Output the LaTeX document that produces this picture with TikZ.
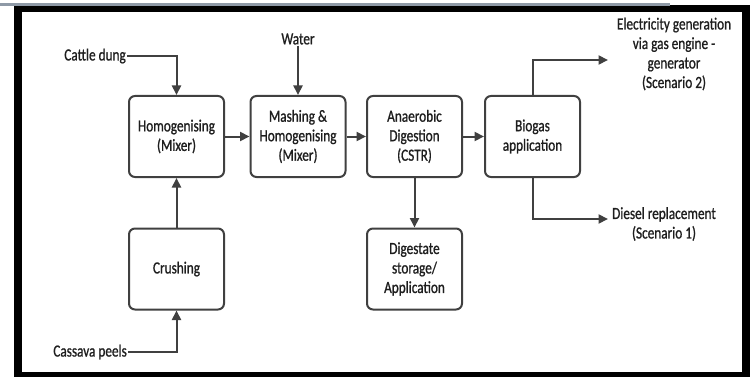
\documentclass[tikz,border=0pt]{standalone}
\usepackage{fontspec}
\setmainfont[FakeStretch=0.78,FakeBold=0.9]{Carlito}
\usetikzlibrary{arrows.meta}
\definecolor{ink}{HTML}{404040}
\definecolor{txt}{HTML}{1E1E1E}
\definecolor{rule}{HTML}{8E99A6}
\begin{document}
\begin{tikzpicture}[x=1pt,y=-1pt,
  every node/.style={font=\fontsize{17}{19.5}\selectfont, text=txt},
  procbox/.style={draw=ink, line width=2pt, rounded corners=6pt, fill=white,
    minimum width=95pt, minimum height=81pt, align=center, inner sep=2pt},
  label/.style={inner sep=1pt, align=center},
  flow/.style={draw=ink, line width=2pt, -{Triangle[length=9.5pt,width=9pt]}},
  feed/.style={draw=ink, line width=2pt}]
  \useasboundingbox (0,0) rectangle (751,377);
  % outer frame
  \fill[black] (14,5) rectangle (750,377);
  \fill[white] (22,12) rectangle (742,372);
  \draw[rule, line width=2.2pt] (0,4.5) -- (670,4.5);

  % process boxes
  \node[procbox] (homog) at (176.5,136.5) {Homogenising\\(Mixer)};
  \node[procbox] (mash)  at (298,136.5)   {Mashing \&\\Homogenising\\(Mixer)};
  \node[procbox] (ad)    at (414.5,136.5) {Anaerobic\\Digestion\\(CSTR)};
  \node[procbox] (bio)   at (532.5,136.5) {Biogas\\application};
  \node[procbox] (crush) at (176.5,269)   {Crushing};
  \node[procbox] (dig)   at (414.5,269)   {Digestate\\storage/\\Application};

  % inputs and outputs
  \node[label, anchor=east] (cattle)  at (127,56)  {Cattle dung};
  \node[label] (water) at (298,39) {Water};
  \node[label, anchor=east] (cassava) at (128,352) {Cassava peels};
  \node[label] (elec) at (674,54) {Electricity generation\\via gas engine -\\generator\\(Scenario 2)};
  \node[label] (diesel) at (664,224) {Diesel replacement\\(Scenario 1)};
  \coordinate (etip) at (608,60);
  \coordinate (dtip) at (608,219);

  % connectors
  \draw[flow] (cattle.east) -| (homog.north);
  \draw[flow] (water.south) -- (mash.north);
  \draw[flow] (homog) -- (mash);
  \draw[flow] (mash) -- (ad);
  \draw[flow] (ad) -- (bio);
  \draw[flow] (crush) -- (homog);
  \draw[flow] (cassava.east) -| (crush.south);
  \draw[flow] (ad) -- (dig);
  \draw[flow] (bio.north) |- (etip);
  \draw[flow] (bio.south) |- (dtip);
\end{tikzpicture}
\end{document}
